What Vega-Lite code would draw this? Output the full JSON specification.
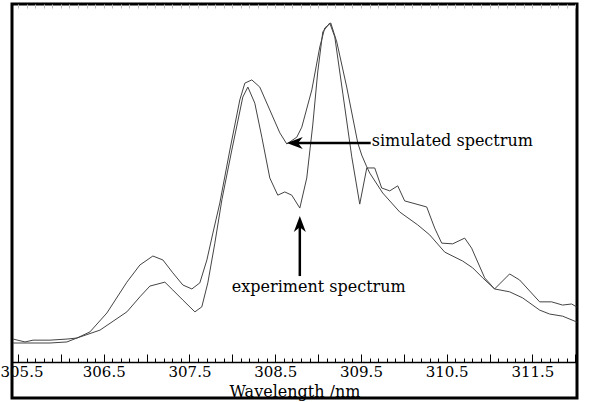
{
  "$schema": "https://vega.github.io/schema/vega-lite/v6.json",
  "width": 565,
  "height": 394,
  "autosize": {"type": "none"},
  "padding": {"left": 12, "top": 4, "right": 12, "bottom": 4},
  "background": "white",
  "config": {
    "view": {"stroke": "#000", "strokeWidth": 3},
    "font": "DejaVu Serif"
  },
  "datasets": {
    "spectra": [
      {"wl": 305.442, "intensity": 0.064, "series": "simulated"},
      {"wl": 305.582, "intensity": 0.056, "series": "simulated"},
      {"wl": 305.675, "intensity": 0.061, "series": "simulated"},
      {"wl": 305.873, "intensity": 0.061, "series": "simulated"},
      {"wl": 306.071, "intensity": 0.064, "series": "simulated"},
      {"wl": 306.188, "intensity": 0.067, "series": "simulated"},
      {"wl": 306.339, "intensity": 0.084, "series": "simulated"},
      {"wl": 306.537, "intensity": 0.137, "series": "simulated"},
      {"wl": 306.770, "intensity": 0.223, "series": "simulated"},
      {"wl": 306.922, "intensity": 0.271, "series": "simulated"},
      {"wl": 307.073, "intensity": 0.296, "series": "simulated"},
      {"wl": 307.190, "intensity": 0.285, "series": "simulated"},
      {"wl": 307.306, "intensity": 0.249, "series": "simulated"},
      {"wl": 307.423, "intensity": 0.215, "series": "simulated"},
      {"wl": 307.528, "intensity": 0.204, "series": "simulated"},
      {"wl": 307.621, "intensity": 0.221, "series": "simulated"},
      {"wl": 307.703, "intensity": 0.285, "series": "simulated"},
      {"wl": 307.773, "intensity": 0.360, "series": "simulated"},
      {"wl": 307.854, "intensity": 0.444, "series": "simulated"},
      {"wl": 307.971, "intensity": 0.592, "series": "simulated"},
      {"wl": 308.087, "intensity": 0.732, "series": "simulated"},
      {"wl": 308.146, "intensity": 0.779, "series": "simulated"},
      {"wl": 308.227, "intensity": 0.788, "series": "simulated"},
      {"wl": 308.320, "intensity": 0.768, "series": "simulated"},
      {"wl": 308.437, "intensity": 0.704, "series": "simulated"},
      {"wl": 308.554, "intensity": 0.640, "series": "simulated"},
      {"wl": 308.635, "intensity": 0.609, "series": "simulated"},
      {"wl": 308.752, "intensity": 0.628, "series": "simulated"},
      {"wl": 308.810, "intensity": 0.656, "series": "simulated"},
      {"wl": 308.927, "intensity": 0.760, "series": "simulated"},
      {"wl": 309.020, "intensity": 0.880, "series": "simulated"},
      {"wl": 309.078, "intensity": 0.933, "series": "simulated"},
      {"wl": 309.148, "intensity": 0.947, "series": "simulated"},
      {"wl": 309.218, "intensity": 0.894, "series": "simulated"},
      {"wl": 309.334, "intensity": 0.768, "series": "simulated"},
      {"wl": 309.463, "intensity": 0.612, "series": "simulated"},
      {"wl": 309.509, "intensity": 0.578, "series": "simulated"},
      {"wl": 309.568, "intensity": 0.545, "series": "simulated"},
      {"wl": 309.602, "intensity": 0.528, "series": "simulated"},
      {"wl": 309.754, "intensity": 0.472, "series": "simulated"},
      {"wl": 309.952, "intensity": 0.419, "series": "simulated"},
      {"wl": 310.162, "intensity": 0.383, "series": "simulated"},
      {"wl": 310.302, "intensity": 0.355, "series": "simulated"},
      {"wl": 310.477, "intensity": 0.307, "series": "simulated"},
      {"wl": 310.686, "intensity": 0.282, "series": "simulated"},
      {"wl": 310.803, "intensity": 0.263, "series": "simulated"},
      {"wl": 310.920, "intensity": 0.235, "series": "simulated"},
      {"wl": 311.059, "intensity": 0.204, "series": "simulated"},
      {"wl": 311.234, "intensity": 0.196, "series": "simulated"},
      {"wl": 311.386, "intensity": 0.179, "series": "simulated"},
      {"wl": 311.584, "intensity": 0.145, "series": "simulated"},
      {"wl": 311.700, "intensity": 0.134, "series": "simulated"},
      {"wl": 311.852, "intensity": 0.128, "series": "simulated"},
      {"wl": 312.015, "intensity": 0.112, "series": "simulated"},
      {"wl": 305.442, "intensity": 0.053, "series": "experiment"},
      {"wl": 305.873, "intensity": 0.053, "series": "experiment"},
      {"wl": 306.071, "intensity": 0.056, "series": "experiment"},
      {"wl": 306.188, "intensity": 0.067, "series": "experiment"},
      {"wl": 306.456, "intensity": 0.089, "series": "experiment"},
      {"wl": 306.770, "intensity": 0.140, "series": "experiment"},
      {"wl": 306.922, "intensity": 0.182, "series": "experiment"},
      {"wl": 307.038, "intensity": 0.212, "series": "experiment"},
      {"wl": 307.213, "intensity": 0.223, "series": "experiment"},
      {"wl": 307.306, "intensity": 0.201, "series": "experiment"},
      {"wl": 307.423, "intensity": 0.173, "series": "experiment"},
      {"wl": 307.563, "intensity": 0.140, "series": "experiment"},
      {"wl": 307.644, "intensity": 0.154, "series": "experiment"},
      {"wl": 307.714, "intensity": 0.221, "series": "experiment"},
      {"wl": 307.796, "intensity": 0.332, "series": "experiment"},
      {"wl": 307.878, "intensity": 0.453, "series": "experiment"},
      {"wl": 307.994, "intensity": 0.592, "series": "experiment"},
      {"wl": 308.122, "intensity": 0.740, "series": "experiment"},
      {"wl": 308.181, "intensity": 0.768, "series": "experiment"},
      {"wl": 308.262, "intensity": 0.723, "series": "experiment"},
      {"wl": 308.344, "intensity": 0.628, "series": "experiment"},
      {"wl": 308.437, "intensity": 0.514, "series": "experiment"},
      {"wl": 308.530, "intensity": 0.466, "series": "experiment"},
      {"wl": 308.612, "intensity": 0.475, "series": "experiment"},
      {"wl": 308.693, "intensity": 0.466, "series": "experiment"},
      {"wl": 308.787, "intensity": 0.430, "series": "experiment"},
      {"wl": 308.868, "intensity": 0.514, "series": "experiment"},
      {"wl": 308.938, "intensity": 0.662, "series": "experiment"},
      {"wl": 308.996, "intensity": 0.810, "series": "experiment"},
      {"wl": 309.055, "intensity": 0.922, "series": "experiment"},
      {"wl": 309.136, "intensity": 0.947, "series": "experiment"},
      {"wl": 309.195, "intensity": 0.908, "series": "experiment"},
      {"wl": 309.288, "intensity": 0.751, "series": "experiment"},
      {"wl": 309.393, "intensity": 0.573, "series": "experiment"},
      {"wl": 309.486, "intensity": 0.441, "series": "experiment"},
      {"wl": 309.568, "intensity": 0.542, "series": "experiment"},
      {"wl": 309.661, "intensity": 0.542, "series": "experiment"},
      {"wl": 309.742, "intensity": 0.486, "series": "experiment"},
      {"wl": 309.836, "intensity": 0.478, "series": "experiment"},
      {"wl": 309.929, "intensity": 0.492, "series": "experiment"},
      {"wl": 310.010, "intensity": 0.450, "series": "experiment"},
      {"wl": 310.267, "intensity": 0.433, "series": "experiment"},
      {"wl": 310.360, "intensity": 0.374, "series": "experiment"},
      {"wl": 310.442, "intensity": 0.332, "series": "experiment"},
      {"wl": 310.570, "intensity": 0.330, "series": "experiment"},
      {"wl": 310.710, "intensity": 0.346, "series": "experiment"},
      {"wl": 310.791, "intensity": 0.318, "series": "experiment"},
      {"wl": 310.943, "intensity": 0.235, "series": "experiment"},
      {"wl": 311.059, "intensity": 0.204, "series": "experiment"},
      {"wl": 311.234, "intensity": 0.246, "series": "experiment"},
      {"wl": 311.351, "intensity": 0.229, "series": "experiment"},
      {"wl": 311.584, "intensity": 0.168, "series": "experiment"},
      {"wl": 311.724, "intensity": 0.168, "series": "experiment"},
      {"wl": 311.852, "intensity": 0.159, "series": "experiment"},
      {"wl": 311.957, "intensity": 0.162, "series": "experiment"},
      {"wl": 312.015, "intensity": 0.154, "series": "experiment"}
    ],
    "notes": [
      {"label": "simulated spectrum", "tx": 309.626, "ty": 0.603, "x1": 308.752, "x2": 309.614, "y1": 0.612, "y2": 0.612, "tipx": 308.635, "tipy": 0.612, "angle": 0},
      {"label": "experiment spectrum", "tx": 307.994, "ty": 0.196, "x1": 308.787, "x2": 308.787, "y1": 0.380, "y2": 0.240, "tipx": 308.787, "tipy": 0.408, "angle": 90}
    ]
  },
  "resolve": {"axis": {"x": "independent"}},
  "layer": [
    {
      "data": {"name": "spectra"},
      "mark": {"type": "line", "stroke": "#444", "strokeWidth": 1, "clip": true},
      "encoding": {
        "x": {
          "field": "wl",
          "type": "quantitative",
          "scale": {"domain": [305.43, 312.02], "nice": false, "zero": false},
          "axis": {
            "orient": "bottom",
            "offset": -36,
            "title": "Wavelength /nm",
            "titleFont": "DejaVu Serif",
            "titleFontSize": 16,
            "titleFontWeight": "normal",
            "titleColor": "#000",
            "titlePadding": 0,
            "values": [305.5, 305.6, 305.7, 305.8, 305.9, 306.0, 306.1, 306.2, 306.3, 306.4, 306.5, 306.6, 306.7, 306.8, 306.9, 307.0, 307.1, 307.2, 307.3, 307.4, 307.5, 307.6, 307.7, 307.8, 307.9, 308.0, 308.1, 308.2, 308.3, 308.4, 308.5, 308.6, 308.7, 308.8, 308.9, 309.0, 309.1, 309.2, 309.3, 309.4, 309.5, 309.6, 309.7, 309.8, 309.9, 310.0, 310.1, 310.2, 310.3, 310.4, 310.5, 310.6, 310.7, 310.8, 310.9, 311.0, 311.1, 311.2, 311.3, 311.4, 311.5, 311.6, 311.7, 311.8, 311.9, 312.0],
            "labelExpr": "round(datum.value * 10) % 10 == 5 ? format(datum.value, '.1f') : ''",
            "labelFont": "DejaVu Serif",
            "labelFontSize": 15,
            "labelColor": "#000",
            "labelFlush": 8,
            "labelFlushOffset": 18,
            "labelOverlap": false,
            "labelBaseline": "top",
            "labelPadding": 10,
            "tickSize": {"condition": {"test": "round(datum.value * 10) % 5 == 0", "value": -8}, "value": -4},
            "tickColor": "#000",
            "tickWidth": 1,
            "domainColor": "#000",
            "domainWidth": 1.5,
            "grid": false
          }
        },
        "y": {
          "field": "intensity",
          "type": "quantitative",
          "scale": {"domain": [-0.1006, 1.0], "nice": false, "zero": false},
          "axis": null
        },
        "detail": {"field": "series"}
      }
    },
    {
      "data": {"name": "notes"},
      "mark": {"type": "rule", "stroke": "#000", "strokeWidth": 2.5},
      "encoding": {
        "x": {
          "field": "x1",
          "type": "quantitative",
          "axis": {
            "orient": "top",
            "title": null,
            "labels": false,
            "domain": false,
            "grid": false,
            "values": [305.5, 305.6, 305.7, 305.8, 305.9, 306.0, 306.1, 306.2, 306.3, 306.4, 306.5, 306.6, 306.7, 306.8, 306.9, 307.0, 307.1, 307.2, 307.3, 307.4, 307.5, 307.6, 307.7, 307.8, 307.9, 308.0, 308.1, 308.2, 308.3, 308.4, 308.5, 308.6, 308.7, 308.8, 308.9, 309.0, 309.1, 309.2, 309.3, 309.4, 309.5, 309.6, 309.7, 309.8, 309.9, 310.0, 310.1, 310.2, 310.3, 310.4, 310.5, 310.6, 310.7, 310.8, 310.9, 311.0, 311.1, 311.2, 311.3, 311.4, 311.5, 311.6, 311.7, 311.8, 311.9, 312.0],
            "tickSize": -4,
            "tickColor": "#bbb",
            "tickWidth": 1
          }
        },
        "x2": {"field": "x2"},
        "y": {"field": "y1", "type": "quantitative"},
        "y2": {"field": "y2"}
      }
    },
    {
      "data": {"name": "notes"},
      "mark": {"type": "point", "shape": "M0,0 L2,-0.75 L1.4,0 L2,0.75 Z", "filled": true, "fill": "#000", "stroke": null, "opacity": 1, "size": 256},
      "encoding": {
        "x": {"field": "tipx", "type": "quantitative", "axis": null},
        "y": {"field": "tipy", "type": "quantitative"},
        "angle": {"field": "angle", "type": "quantitative", "scale": null}
      }
    },
    {
      "data": {"name": "notes"},
      "mark": {"type": "text", "align": "left", "baseline": "alphabetic", "font": "DejaVu Serif", "fontSize": 16, "fill": "#000"},
      "encoding": {
        "x": {"field": "tx", "type": "quantitative", "axis": null},
        "y": {"field": "ty", "type": "quantitative"},
        "text": {"field": "label"}
      }
    }
  ]
}
